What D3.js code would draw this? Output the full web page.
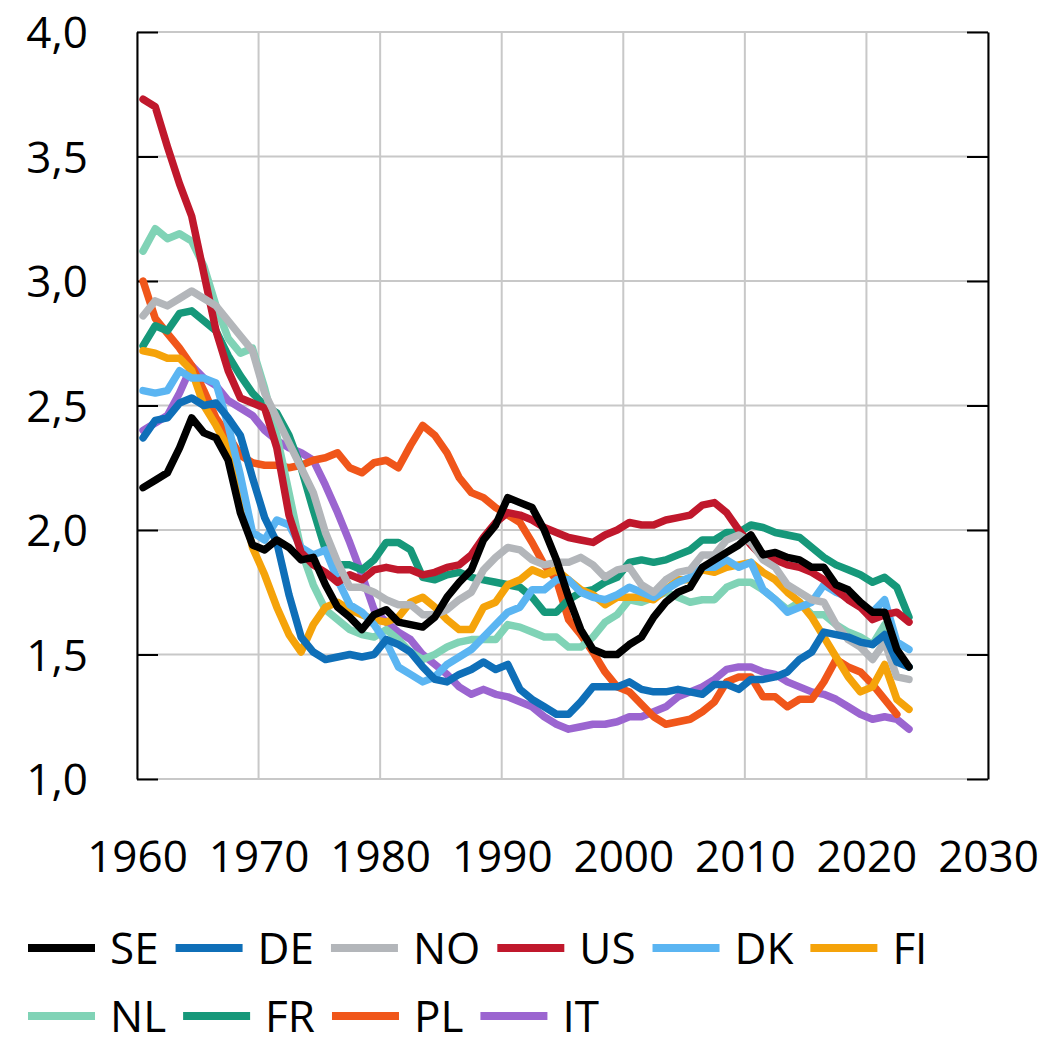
<!DOCTYPE html>
<html>
<head>
<meta charset="utf-8">
<script src="https://cdn.jsdelivr.net/npm/d3@7"></script>
<style>
  body { margin: 0; background: #fff; }
  text { font-family: "Open Sans", "Noto Sans", sans-serif; fill: #000; }
</style>
</head>
<body>
<div id="chart"></div>
<script>
// Years on the x axis (PL ends one year earlier)
var years = [1960,1961,1962,1963,1964,1965,1966,1967,1968,1969,
             1970,1971,1972,1973,1974,1975,1976,1977,1978,1979,
             1980,1981,1982,1983,1984,1985,1986,1987,1988,1989,
             1990,1991,1992,1993,1994,1995,1996,1997,1998,1999,
             2000,2001,2002,2003,2004,2005,2006,2007,2008,2009,
             2010,2011,2012,2013,2014,2015,2016,2017,2018,2019,
             2020,2021,2022,2023];

var countries = ["SE", "DE", "NO", "US", "DK", "FI", "NL", "FR", "PL", "IT"];

var SE = [2.17,2.20,2.23,2.33,2.45,2.39,2.37,2.28,2.07,1.94,
          1.92,1.96,1.93,1.88,1.89,1.78,1.69,1.65,1.60,1.66,
          1.68,1.63,1.62,1.61,1.65,1.73,1.79,1.84,1.96,2.02,
          2.13,2.11,2.09,2.00,1.88,1.73,1.60,1.52,1.50,1.50,
          1.54,1.57,1.65,1.71,1.75,1.77,1.85,1.88,1.91,1.94,
          1.98,1.90,1.91,1.89,1.88,1.85,1.85,1.78,1.76,1.71,
          1.67,1.67,1.52,1.45];
var DE = [2.37,2.44,2.45,2.51,2.53,2.50,2.51,2.45,2.38,2.21,
          2.05,1.95,1.74,1.57,1.51,1.48,1.49,1.50,1.49,1.50,
          1.56,1.54,1.51,1.45,1.40,1.39,1.42,1.44,1.47,1.44,
          1.46,1.36,1.32,1.29,1.26,1.26,1.31,1.37,1.37,1.37,
          1.39,1.36,1.35,1.35,1.36,1.35,1.34,1.38,1.38,1.36,
          1.40,1.40,1.41,1.43,1.48,1.51,1.59,1.58,1.57,1.55,
          1.54,1.58,1.47,1.45];
var NO = [2.86,2.92,2.90,2.93,2.96,2.93,2.90,2.84,2.78,2.72,
          2.55,2.45,2.35,2.25,2.15,1.99,1.87,1.77,1.77,1.75,
          1.72,1.70,1.70,1.66,1.66,1.68,1.72,1.75,1.84,1.89,
          1.93,1.92,1.88,1.86,1.87,1.87,1.89,1.86,1.81,1.84,
          1.85,1.78,1.75,1.80,1.83,1.84,1.90,1.90,1.96,1.98,
          1.95,1.88,1.85,1.78,1.75,1.72,1.71,1.62,1.56,1.53,
          1.48,1.55,1.41,1.40];
var US = [3.73,3.70,3.54,3.39,3.26,3.03,2.80,2.64,2.53,2.51,
          2.49,2.33,2.06,1.91,1.86,1.83,1.79,1.82,1.80,1.84,
          1.85,1.84,1.84,1.82,1.83,1.85,1.86,1.90,1.97,2.03,
          2.07,2.06,2.04,2.01,1.99,1.97,1.96,1.95,1.98,2.00,
          2.03,2.02,2.02,2.04,2.05,2.06,2.10,2.11,2.07,2.00,
          1.94,1.89,1.88,1.86,1.85,1.83,1.80,1.76,1.72,1.69,
          1.64,1.66,1.67,1.63];
var DK = [2.56,2.55,2.56,2.64,2.61,2.61,2.59,2.42,2.22,1.99,
          1.96,2.04,2.02,1.93,1.90,1.92,1.80,1.70,1.67,1.62,
          1.55,1.45,1.42,1.39,1.41,1.46,1.49,1.52,1.57,1.62,
          1.67,1.69,1.76,1.76,1.80,1.80,1.75,1.73,1.72,1.74,
          1.77,1.75,1.73,1.76,1.79,1.81,1.85,1.85,1.88,1.85,
          1.87,1.76,1.72,1.67,1.69,1.71,1.78,1.75,1.73,1.70,
          1.67,1.72,1.55,1.52];
var FI = [2.72,2.71,2.69,2.69,2.64,2.50,2.42,2.33,2.14,1.93,
          1.82,1.69,1.58,1.51,1.62,1.69,1.71,1.68,1.66,1.64,
          1.63,1.65,1.71,1.73,1.69,1.64,1.60,1.60,1.69,1.71,
          1.78,1.80,1.84,1.82,1.84,1.80,1.76,1.74,1.70,1.73,
          1.73,1.73,1.72,1.76,1.80,1.80,1.84,1.83,1.85,1.86,
          1.87,1.83,1.80,1.75,1.71,1.65,1.57,1.49,1.41,1.35,
          1.37,1.46,1.32,1.28];
var NL = [3.12,3.21,3.17,3.19,3.16,3.06,2.90,2.77,2.71,2.73,
          2.57,2.38,2.15,1.92,1.78,1.68,1.64,1.60,1.58,1.57,
          1.60,1.56,1.51,1.48,1.50,1.53,1.55,1.56,1.56,1.56,
          1.62,1.61,1.59,1.57,1.57,1.53,1.53,1.57,1.63,1.66,
          1.72,1.71,1.73,1.75,1.73,1.71,1.72,1.72,1.77,1.79,
          1.79,1.76,1.72,1.68,1.71,1.66,1.66,1.62,1.59,1.57,
          1.54,1.62,1.49,1.45];
var FR = [2.74,2.82,2.80,2.87,2.88,2.84,2.80,2.70,2.62,2.55,
          2.50,2.47,2.38,2.25,2.08,1.92,1.86,1.86,1.84,1.88,
          1.95,1.95,1.92,1.81,1.80,1.82,1.83,1.81,1.80,1.79,
          1.78,1.77,1.73,1.67,1.67,1.72,1.75,1.76,1.79,1.81,
          1.87,1.88,1.87,1.88,1.90,1.92,1.96,1.96,1.99,1.99,
          2.02,2.01,1.99,1.98,1.97,1.93,1.89,1.86,1.84,1.82,
          1.79,1.81,1.77,1.65];
var PL = [3.00,2.85,2.79,2.73,2.66,2.56,2.45,2.38,2.30,2.27,
          2.26,2.26,2.25,2.26,2.28,2.29,2.31,2.25,2.23,2.27,
          2.28,2.25,2.34,2.42,2.38,2.31,2.21,2.15,2.13,2.09,
          2.06,2.03,1.95,1.86,1.80,1.64,1.58,1.51,1.43,1.37,
          1.35,1.30,1.25,1.22,1.23,1.24,1.27,1.31,1.39,1.41,
          1.41,1.33,1.33,1.29,1.32,1.32,1.39,1.48,1.45,1.43,
          1.38,1.32,1.26];
var IT = [2.40,2.43,2.46,2.55,2.66,2.61,2.58,2.52,2.49,2.46,
          2.40,2.36,2.33,2.31,2.28,2.18,2.07,1.95,1.82,1.68,
          1.63,1.59,1.56,1.50,1.46,1.42,1.37,1.34,1.36,1.34,
          1.33,1.31,1.29,1.25,1.22,1.20,1.21,1.22,1.22,1.23,
          1.25,1.25,1.27,1.29,1.33,1.35,1.37,1.40,1.44,1.45,
          1.45,1.43,1.42,1.39,1.37,1.35,1.34,1.32,1.29,1.26,
          1.24,1.25,1.24,1.20];

var xTicks = [1960, 1970, 1980, 1990, 2000, 2010, 2020, 2030];
var yTicks = [1.0, 1.5, 2.0, 2.5, 3.0, 3.5, 4.0];
var legendRows = [["SE", "DE", "NO", "US", "DK", "FI"], ["NL", "FR", "PL", "IT"]];

var seriesValues = {SE: SE, DE: DE, NO: NO, US: US, DK: DK, FI: FI, NL: NL, FR: FR, PL: PL, IT: IT};

var colors = {
  SE: "#000000", DE: "#0f6fb8", NO: "#b3b6ba", US: "#c0182c", DK: "#5bb5f2",
  FI: "#f5a30a", NL: "#80d3b6", FR: "#16987a", PL: "#f0561a", IT: "#9b65d0"
};

function draw_chart(selector){
  var w = 1044, h = 1048;
  var plotLeft = 137, plotRight = 988, plotTop = 32, plotBottom = 779;

  var svg = d3.select(selector)
    .append("svg")
    .attr("width", w)
    .attr("height", h)
    .style("background-color", "#fff");

  var x = d3.scaleLinear().domain([1960, 2030]).range([plotLeft, plotRight]);
  var y = d3.scaleLinear().domain([1, 4]).range([plotBottom, plotTop]);

  var locale = d3.formatLocale({decimal: ",", thousands: ".", grouping: [3], currency: ["", ""]});
  var fmtY = locale.format(".1f");

  // gridlines
  svg.append("g")
    .selectAll("line")
    .data(yTicks)
    .enter()
    .append("line")
    .attr("x1", plotLeft).attr("x2", plotRight)
    .attr("y1", function(d){ return y(d); })
    .attr("y2", function(d){ return y(d); })
    .style("stroke", "#c8c8c8")
    .style("stroke-width", 2);

  svg.append("g")
    .selectAll("line")
    .data(xTicks)
    .enter()
    .append("line")
    .attr("x1", function(d){ return x(d); })
    .attr("x2", function(d){ return x(d); })
    .attr("y1", plotTop).attr("y2", plotBottom)
    .style("stroke", "#c8c8c8")
    .style("stroke-width", 2);

  // left and right axis lines with inside ticks
  var leftAxis = svg.append("g")
    .attr("transform", "translate(" + plotLeft + ",0)")
    .call(d3.axisRight(y).tickValues(yTicks).tickSize(21).tickSizeOuter(0).tickFormat(""));
  var rightAxis = svg.append("g")
    .attr("transform", "translate(" + plotRight + ",0)")
    .call(d3.axisLeft(y).tickValues(yTicks).tickSize(21).tickSizeOuter(0).tickFormat(""));
  [leftAxis, rightAxis].forEach(function(g){
    g.selectAll("path, line").style("stroke", "#000").style("stroke-width", 2);
  });

  // tick labels
  var yLabels = svg.append("g")
    .attr("transform", "translate(" + plotLeft + ",0)")
    .call(d3.axisLeft(y).tickValues(yTicks).tickSize(0).tickPadding(49).tickFormat(fmtY));
  yLabels.select(".domain").remove();
  yLabels.selectAll("text")
    .attr("dy", "0.36em")
    .style("font-family", "'Open Sans', sans-serif")
    .style("font-size", "44px")
    .style("fill", "#000");

  var xLabels = svg.append("g")
    .attr("transform", "translate(0," + plotBottom + ")")
    .call(d3.axisBottom(x).tickValues(xTicks).tickSize(0).tickFormat(d3.format("d")));
  xLabels.select(".domain").remove();
  xLabels.selectAll("text")
    .attr("y", 93)
    .attr("dy", 0)
    .style("font-family", "'Open Sans', sans-serif")
    .style("font-size", "44px")
    .style("fill", "#000");

  // series lines, SE drawn last so it sits on top
  var line = d3.line()
    .x(function(d){ return x(d.year + 0.5); })
    .y(function(d){ return y(d.value); });

  var drawOrder = countries.slice().reverse();
  svg.append("g")
    .selectAll("path")
    .data(drawOrder)
    .enter()
    .append("path")
    .attr("d", function(c){
      return line(seriesValues[c].map(function(v, i){ return {year: years[i], value: v}; }));
    })
    .style("fill", "none")
    .style("stroke", function(c){ return colors[c]; })
    .style("stroke-width", 7.5)
    .style("stroke-linejoin", "round")
    .style("stroke-linecap", "round");

  // legend
  var rowY = [948, 1016];
  legendRows.forEach(function(row, r){
    var cx = 28;
    row.forEach(function(c){
      var g = svg.append("g");
      g.append("line")
        .attr("x1", cx).attr("x2", cx + 67)
        .attr("y1", rowY[r]).attr("y2", rowY[r])
        .style("stroke", colors[c])
        .style("stroke-width", 8);
      var t = g.append("text")
        .attr("x", cx + 82)
        .attr("y", rowY[r] + 16)
        .style("font-size", "44px")
        .text(c);
      cx = cx + 82 + t.node().getComputedTextLength() + 17;
    });
  });
}

draw_chart("#chart");
</script>
</body>
</html>
